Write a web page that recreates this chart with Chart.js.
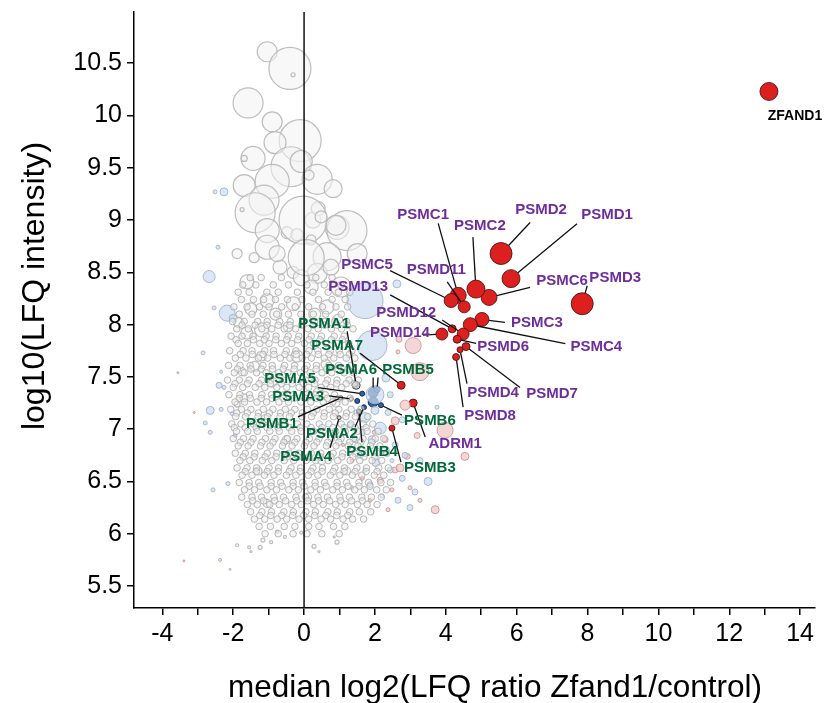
<!DOCTYPE html>
<html>
<head>
<meta charset="utf-8">
<script src="https://cdn.jsdelivr.net/npm/chart.js@4/dist/chart.umd.min.js"></script>
<style>
  html, body { margin: 0; padding: 0; background: #fff; }
</style>
</head>
<body>
<canvas id="volcano" width="826" height="703"></canvas>
<script>
// ---- data (x = median log2 ratio, y = log10 LFQ intensity, third value = bubble size) ----
const greyBubbles = [
  [-1.04,10.61,10], [-0.40,10.45,21], [-0.31,10.39,2], [-1.58,10.12,15], [-0.90,9.94,10],
  [-0.11,9.76,21], [-0.82,9.74,11], [-1.44,9.59,12], [-1.69,9.59,3], [-0.37,9.51,20],
  [-0.08,9.56,11], [0.37,9.39,15], [0.14,9.43,5], [0.82,9.30,9], [-1.69,9.33,11],
  [-0.90,9.37,17], [-1.13,9.19,15], [-1.38,9.07,20], [-1.75,9.10,2], [-1.04,8.90,12],
  [-0.48,8.88,6], [-0.20,8.86,6], [0.25,9.00,8], [0.40,9.11,7], [0.93,8.93,12],
  [1.21,8.90,20], [0.65,8.65,14], [-1.89,8.68,5], [-1.61,8.41,7], [-1.04,8.74,12],
  [-0.68,8.55,7], [-0.31,8.50,6], [0.37,8.49,10], [1.50,8.68,10], [-0.03,9.00,24],
  [-1.41,8.64,5], [-0.76,8.68,8], [0.20,8.81,5], [0.90,8.95,10], [0.48,9.03,6],
  [-0.08,8.45,8], [0.20,8.36,7], [0.76,8.55,8], [1.04,8.36,10], [-1.04,8.23,7],
  [0.65,8.17,7], [0.06,8.64,18], [-1.89,7.24,3], [-1.04,6.29,4], [-1.89,5.89,1.5],
  [-1.55,5.87,1.5], [-1.24,5.87,2], [-1.50,5.83,1], [-0.93,5.92,1.5], [-0.76,6.02,1.5],
  [-0.54,5.97,1.5], [0.28,5.88,2], [0.42,5.83,1], [0.93,5.92,2], [0.85,5.97,1],
  [-0.08,6.01,1.5], [-1.16,5.94,2], [-1.62,7.92,6], [-1.20,7.70,5], [-0.45,7.98,5],
  [0.62,7.62,5], [-1.75,7.55,4], [0.95,8.05,5], [-1.85,8.02,5], [-1.50,8.15,6],
  [-1.20,7.95,7], [-0.80,8.10,6], [-0.30,8.20,7], [0.30,8.10,6], [-1.40,7.60,5],
  [-0.90,7.45,5], [-0.20,7.70,6], [0.40,7.35,5], [-1.70,7.30,4], [-1.10,7.10,4],
  [0.90,7.25,4], [-0.50,6.90,4], [0.50,6.70,4], [1.20,6.60,4], [-1.30,6.60,4],
  [0.10,6.35,4]
];

const cloudRows = [
  [8.45, [-1.52,-1.21,-0.64,0.33,0.79]],
  [8.38, [-1.73,-1.36,-0.87,-0.44,0.08,0.57,1.04]],
  [8.31, [-1.86,-1.55,-1.05,-0.73,-0.19,0.25,0.68,0.97,1.29]],
  [8.24, [-1.77,-1.43,-1.14,-0.81,-0.47,-0.06,0.41,0.79,1.16]],
  [8.17, [-1.98,-1.61,-1.26,-0.99,-0.63,-0.25,0.13,0.52,0.9,1.23]],
  [8.10, [-1.83,-1.47,-1.15,-0.77,-0.44,-0.09,0.26,0.61,1.05]],
  [8.03, [-2.02,-1.69,-1.31,-1.04,-0.69,-0.39,-0.02,0.3,0.59,0.87,1.2]],
  [7.995, [-1.75,-1.38,-1.05,-0.73,-0.4,-0.07,0.25,0.58,0.93,1.22]],
  [7.96, [-1.9,-1.57,-1.19,-0.91,-0.56,-0.24,0.11,0.4,0.77,1.06,1.38]],
  [7.89, [-2.06,-1.75,-1.44,-1.07,-0.79,-0.45,-0.15,0.2,0.49,0.85,1.13]],
  [7.855, [-1.92,-1.43,-1.12,-0.8,-0.49,-0.18,0.14,0.45,0.77,1.08]],
  [7.82, [-1.86,-1.6,-1.25,-0.99,-0.64,-0.35,0.01,0.27,0.62,0.92,1.26]],
  [7.75, [-2.1,-1.72,-1.47,-1.11,-0.86,-0.5,-0.23,0.14,0.39,0.74,0.99,1.35]],
  [7.715, [-1.8,-1.46,-1.16,-0.85,-0.54,-0.22,0.07,0.4,0.7,1.02,1.28]],
  [7.68, [-1.94,-1.64,-1.29,-1.03,-0.67,-0.4,-0.05,0.21,0.57,0.84,1.19,1.43]],
  [7.61, [-2.13,-1.81,-1.52,-1.16,-0.9,-0.55,-0.27,0.08,0.35,0.7,0.97,1.32]],
  [7.575, [-1.88,-1.5,-1.21,-0.89,-0.59,-0.28,0.02,0.34,0.64,0.96,1.24]],
  [7.54, [-1.97,-1.69,-1.34,-1.07,-0.72,-0.46,-0.1,0.17,0.51,0.78,1.13,1.4]],
  [7.47, [-2.16,-1.83,-1.55,-1.2,-0.94,-0.59,-0.32,0.04,0.31,0.66,0.93,1.27,1.53]],
  [7.435, [-1.95,-1.6,-1.27,-0.95,-0.64,-0.33,-0.02,0.3,0.61,0.92,1.19,1.42]],
  [7.40, [-2.0,-1.73,-1.38,-1.11,-0.77,-0.49,-0.14,0.13,0.48,0.75,1.06]],
  [7.33, [-2.12,-1.81,-1.54,-1.19,-0.92,-0.57,-0.3,0.05,0.32,0.6,0.86]],
  [7.295, [-1.83,-1.52,-1.21,-0.9,-0.59,-0.28,0.03,0.35,0.66,0.97,1.3]],
  [7.26, [-1.95,-1.68,-1.33,-1.06,-0.71,-0.44,-0.09,0.19,0.54,0.81,1.16]],
  [7.19, [-2.07,-1.77,-1.5,-1.15,-0.88,-0.53,-0.26,0.09,0.36,0.71,0.98,1.33,1.6]],
  [7.155, [-1.9,-1.6,-1.29,-0.98,-0.67,-0.36,-0.05,0.26,0.57,0.88,1.2,1.5]],
  [7.12, [-1.93,-1.65,-1.3,-1.03,-0.68,-0.41,-0.06,0.21,0.56,0.83,1.18,1.45,1.8]],
  [7.05, [-2.04,-1.78,-1.43,-1.16,-0.81,-0.54,-0.19,0.08,0.43,0.7,1.05,1.32,1.67,1.94]],
  [7.015, [-1.97,-1.66,-1.35,-1.04,-0.73,-0.42,-0.11,0.2,0.51,0.82,1.13,1.44,1.75]],
  [6.98, [-1.91,-1.59,-1.32,-0.97,-0.7,-0.35,-0.08,0.27,0.54,0.89,1.16,1.51,1.78,2.09]],
  [6.91, [-2.0,-1.71,-1.44,-1.09,-0.82,-0.47,-0.2,0.15,0.42,0.77,1.04,1.39,1.66,2.01,2.25]],
  [6.875, [-1.8,-1.5,-1.19,-0.88,-0.57,-0.26,0.05,0.36,0.67,0.98,1.29,1.6,1.91]],
  [6.84, [-1.86,-1.58,-1.23,-0.96,-0.61,-0.34,0.01,0.28,0.63,0.9,1.25,1.52,1.87,2.14]],
  [6.77, [-1.94,-1.66,-1.39,-1.04,-0.77,-0.42,-0.15,0.2,0.47,0.82,1.09,1.44,1.71,2.06,2.33]],
  [6.735, [-1.72,-1.41,-1.1,-0.79,-0.48,-0.17,0.14,0.45,0.76,1.07,1.38,1.69,2.0]],
  [6.70, [-1.81,-1.53,-1.18,-0.91,-0.56,-0.29,0.06,0.33,0.68,0.95,1.3,1.57,1.92,2.19]],
  [6.63, [-1.89,-1.61,-1.34,-0.99,-0.72,-0.37,-0.1,0.25,0.52,0.87,1.14,1.49,1.76,2.11,2.38]],
  [6.595, [-1.66,-1.35,-1.04,-0.73,-0.42,-0.11,0.2,0.51,0.82,1.13,1.44,1.75,2.06]],
  [6.56, [-1.75,-1.47,-1.12,-0.85,-0.5,-0.23,0.12,0.39,0.74,1.01,1.36,1.63,1.98,2.25]],
  [6.49, [-1.83,-1.55,-1.28,-0.93,-0.66,-0.31,-0.04,0.31,0.58,0.93,1.2,1.55,1.82,2.17,2.44]],
  [6.455, [-1.55,-1.24,-0.93,-0.62,-0.31,0.0,0.31,0.62,0.93,1.24,1.55,1.86]],
  [6.42, [-1.68,-1.4,-1.05,-0.78,-0.43,-0.16,0.19,0.46,0.81,1.08,1.43,1.7,2.05,2.32]],
  [6.35, [-1.76,-1.47,-1.2,-0.85,-0.58,-0.23,0.04,0.39,0.66,1.01,1.28,1.63,1.9,2.18]],
  [6.315, [-1.45,-1.14,-0.83,-0.52,-0.21,0.1,0.41,0.72,1.03,1.34,1.65]],
  [6.28, [-1.6,-1.32,-0.97,-0.7,-0.35,-0.08,0.27,0.54,0.89,1.16,1.51,1.78,2.06]],
  [6.21, [-1.51,-1.19,-0.92,-0.57,-0.3,0.05,0.32,0.67,0.94,1.29,1.56,1.88]],
  [6.175, [-1.25,-0.94,-0.63,-0.32,-0.01,0.3,0.61,0.92,1.23]],
  [6.14, [-1.4,-1.11,-0.76,-0.49,-0.14,0.13,0.48,0.75,1.1,1.37,1.68]],
  [6.07, [-1.27,-0.95,-0.56,-0.26,0.13,0.42,0.83,1.15]],
  [6.00, [-1.1,-0.73,-0.31,0.08,0.5,0.99]]
];

const blueBubbles = [
  [-2.68,8.46,6], [-2.17,8.11,8], [-2.00,8.06,4], [-2.54,8.16,2], [-2.43,8.74,2],
  [-2.51,9.27,2], [-2.26,9.27,4], [-2.85,7.73,2], [-2.34,7.55,1.5], [-2.40,7.42,3],
  [-2.26,7.40,2], [2.62,8.39,4], [-2.65,7.18,4], [-2.34,7.19,2], [-2.03,7.15,2],
  [-2.79,7.06,2], [-2.65,6.97,2], [-1.95,6.94,2], [-2.15,6.48,2], [-2.57,6.42,2],
  [-2.37,5.75,1.5], [-2.09,5.66,1], [1.72,8.23,18], [1.92,7.80,15], [2.00,7.33,9],
  [1.72,7.11,5], [2.15,7.01,6], [1.92,6.90,4], [2.29,6.80,4], [2.57,6.85,3],
  [1.58,6.75,3], [2.03,6.68,4], [2.43,6.61,3], [2.77,6.53,3], [3.50,6.50,4],
  [3.13,6.40,3], [2.65,6.32,3], [2.99,6.25,3], [2.20,6.36,2], [1.86,6.47,3],
  [3.27,6.70,3], [2.85,6.75,3], [1.72,6.61,2], [1.44,6.90,3], [2.37,7.16,3],
  [1.30,7.04,3], [3.75,7.21,2], [2.77,7.09,3], [2.43,7.33,3], [2.31,7.49,4],
  [1.35,6.44,2], [2.48,6.70,2], [1.64,6.97,3], [2.00,7.18,4]
];

const pinkBubbles = [
  [3.08,7.80,8], [3.27,7.55,9], [2.68,7.86,3], [2.65,7.74,2], [2.85,7.23,5],
  [3.98,6.99,8], [4.54,6.74,4], [2.57,6.61,3], [3.70,6.23,4], [2.91,6.74,3],
  [3.19,6.94,3], [2.29,6.90,3], [2.71,6.63,4], [2.15,6.51,3], [2.48,6.42,2],
  [3.27,6.32,2], [1.86,6.32,2], [2.37,6.23,2], [2.57,7.08,4], [1.35,6.70,2],
  [1.64,6.53,2], [2.99,6.44,2], [3.50,6.66,2], [1.98,6.97,2], [1.10,6.85,1.5],
  [-3.56,7.54,1], [-3.39,5.74,1], [-3.10,7.16,1]
];

// named proteasome / ZFAND1 points
const redNames = ['ZFAND1','PSMD3','PSMD2','PSMD1','PSMC6','PSMC2','PSMC1','PSMD11','PSMC5','PSMC3',
                  'PSMC4','PSMD12','PSMD13','PSMD14','PSMD6','PSMD7','PSMD4','PSMD8','ADRM1','PSMA7','PSMB3'];
const redX = [13.12, 7.85, 5.56, 5.84, 5.22, 4.85, 4.35, 4.52, 4.15, 5.02,
              4.69, 4.49, 4.18, 3.89, 4.32, 4.57, 4.40, 4.29, 3.08, 2.74, 2.48];
const redY = [10.23, 8.20, 8.68, 8.44, 8.26, 8.34, 8.28, 8.17, 8.23, 8.05,
              8.00, 7.91, 7.96, 7.91, 7.86, 7.79, 7.76, 7.69, 7.25, 7.42, 7.01];
const redSize = [9, 11, 11, 9, 8, 9, 8, 6, 7, 7,
                 7, 6, 4, 6, 4, 4, 3, 3.5, 4, 4, 3];

const blueNames = ['PSMA6','PSMB5','PSMA5','PSMA2','PSMB4','PSMB6','PSMB2','PSMB7'];
const blueX = [1.95, 2.06, 1.64, 1.69, 1.55, 2.17, 1.95, 1.50];
const blueY = [7.35, 7.38, 7.34, 7.21, 7.17, 7.23, 7.26, 7.27];
const blueSize = [5, 3, 2.5, 2.5, 2.5, 2.5, 5, 2.5];

const greyNames = ['PSMA1','PSMA3','PSMB1','PSMA4'];
const greyX = [1.47, 1.33, 1.04, 0.99];
const greyY = [7.42, 7.29, 7.30, 7.11];
const greySize = [4, 2, 2, 2];

// label layout: [label dx, label dy, line start dx, line start dy] in px from the point
const labelLayout = {
  ZFAND1: [26, 25], PSMD3: [33, -26, 5, -18], PSMD2: [40, -44, 29, -31], PSMD1: [96, -64, 66, -55],
  PSMC6: [73, -17, 41, -10], PSMC2: [4, -63, -3, -52], PSMC1: [-35, -81, -20, -72],
  PSMD11: [-28, -37, -17, -25], PSMC5: [-84, -36, -61, -30], PSMC3: [55, 3, 23, 3],
  PSMC4: [126, 22, 95, 19], PSMD12: [-57, -21, -21, -14], PSMD13: [-94, -42, -62, -34],
  PSMD14: [-42, -1, -19, 1], PSMD6: [46, 8, 19, 4], PSMD7: [86, 47, 54, 41],
  PSMD4: [33, 43, 7, 34], PSMD8: [34, 59, 7, 50], ADRM1: [42, 41, 12, 34],
  PSMA7: [-64, -39, -41, -32], PSMB3: [38, 40, 9, 34],
  PSMA6: [-22, -23, 0, -15], PSMB5: [31, -20, 1, -12], PSMA5: [-72, -15, -44, -6],
  PSMA2: [-32, 27, -9, 20], PSMB4: [13, 40, 3, 31], PSMB6: [49, 16, 21, 10],
  PSMA1: [-32, -61, -9, -54], PSMA3: [-53, -2, -22, -3], PSMB1: [-69, 26, -43, 19],
  PSMA4: [-33, 39, -9, 30]
};

// ---- build datasets ----
const tri = arr => arr.map(([x, y, r]) => ({ x, y, r }));
const cloudPts = cloudRows.flatMap(([y, xs]) => xs.map(x => ({ x, y, r: 3.3 })));
const named = (names, xs, ys, rs) => names.map((n, i) => ({ x: xs[i], y: ys[i], r: rs[i], name: n }));

const redPts = named(redNames, redX, redY, redSize);
const bluePts = named(blueNames, blueX, blueY, blueSize);
const greyNamedPts = named(greyNames, greyX, greyY, greySize);

const FONT = "'Liberation Sans', Arial, Helvetica, sans-serif";
const PURPLE = '#6f2d9c';
const GREEN = '#00693a';

const overlay = {
  id: 'overlay',
  afterDatasetsDraw(chart) {
    const { ctx, chartArea: a, scales: { x, y } } = chart;
    ctx.save();
    const x0 = x.getPixelForValue(0);
    ctx.strokeStyle = '#111';
    ctx.lineWidth = 1.5;
    ctx.beginPath();
    ctx.moveTo(x0, a.top);
    ctx.lineTo(x0, a.bottom);
    ctx.stroke();

    const all = redPts.concat(bluePts, greyNamedPts);
    ctx.lineWidth = 1.3;
    ctx.strokeStyle = '#111';
    all.forEach(p => {
      const l = labelLayout[p.name];
      if (!l || l.length < 4) return;
      const px = x.getPixelForValue(p.x), py = y.getPixelForValue(p.y);
      const sx = px + l[2], sy = py + l[3];
      const d = Math.hypot(px - sx, py - sy);
      const ex = px - (px - sx) / d * p.r, ey = py - (py - sy) / d * p.r;
      ctx.beginPath();
      ctx.moveTo(sx, sy);
      ctx.lineTo(ex, ey);
      ctx.stroke();
    });

    ctx.textAlign = 'center';
    ctx.textBaseline = 'middle';
    all.forEach(p => {
      const l = labelLayout[p.name];
      if (!l) return;
      const px = x.getPixelForValue(p.x), py = y.getPixelForValue(p.y);
      if (p.name === 'ZFAND1') {
        ctx.font = 'bold 14px ' + FONT;
        ctx.fillStyle = '#000';
      } else {
        ctx.font = 'bold 15px ' + FONT;
        ctx.fillStyle = /^PSM[AB]/.test(p.name) ? GREEN : PURPLE;
      }
      ctx.fillText(p.name, px + l[0], py + l[1]);
    });
    ctx.restore();
  },
  afterDraw(chart) {
    const { ctx } = chart;
    ctx.save();
    ctx.fillStyle = '#000';
    ctx.textAlign = 'center';
    ctx.textBaseline = 'middle';
    ctx.font = '31.5px ' + FONT;
    ctx.fillText('median log2(LFQ ratio Zfand1/control)', 495, 688);
    ctx.font = '32px ' + FONT;
    ctx.translate(35, 286);
    ctx.rotate(-Math.PI / 2);
    ctx.fillText('log10(LFQ intensity)', 0, 0);
    ctx.restore();
  }
};

new Chart(document.getElementById('volcano'), {
  type: 'bubble',
  data: {
    datasets: [
      { data: cloudPts, backgroundColor: 'rgba(236,236,236,0.5)', borderColor: 'rgba(172,172,172,0.85)', borderWidth: 1 },
      { data: tri(greyBubbles), backgroundColor: 'rgba(242,242,242,0.55)', borderColor: 'rgba(185,185,185,0.95)', borderWidth: 1.2 },
      { data: tri(blueBubbles), backgroundColor: 'rgba(204,221,240,0.7)', borderColor: 'rgba(160,180,205,0.9)', borderWidth: 1 },
      { data: tri(pinkBubbles), backgroundColor: 'rgba(242,200,200,0.75)', borderColor: 'rgba(205,150,150,0.9)', borderWidth: 1 },
      { data: greyNamedPts, backgroundColor: '#c8c8c8', borderColor: '#444', borderWidth: 1 },
      { data: bluePts, backgroundColor: '#2d62a4', borderColor: '#1a2a44', borderWidth: 1 },
      { data: redPts, backgroundColor: '#dc1f1f', borderColor: '#3c0c0c', borderWidth: 0.8 }
    ]
  },
  options: {
    responsive: false,
    animation: false,
    devicePixelRatio: 1,
    events: [],
    layout: { autoPadding: false, padding: { top: 12, right: 11, left: 0, bottom: 0 } },
    plugins: { legend: { display: false }, tooltip: { enabled: false } },
    scales: {
      x: {
        type: 'linear', min: -4.8, max: 14.42,
        ticks: {
          stepSize: 1, includeBounds: false, autoSkip: false, maxRotation: 0, padding: 4,
          color: '#000', font: { family: FONT, size: 25 },
          callback: v => (Math.round(v) % 2 === 0 ? String(Math.round(v)) : '')
        },
        grid: { drawOnChartArea: false, drawTicks: true, tickLength: 7, color: '#000', lineWidth: 1.5 },
        border: { display: true, color: '#000', width: 1.5 },
        afterFit: s => { s.height = 95; s.paddingLeft = 0; s.paddingRight = 0; }
      },
      y: {
        type: 'linear', min: 5.29, max: 10.99,
        ticks: {
          stepSize: 0.5, includeBounds: false, autoSkip: false, padding: 5,
          color: '#000', font: { family: FONT, size: 25 },
          callback: v => String(Math.round(v * 10) / 10)
        },
        grid: { drawOnChartArea: false, drawTicks: true, tickLength: 7, color: '#000', lineWidth: 1.5 },
        border: { display: true, color: '#000', width: 1.5 },
        afterFit: s => { s.width = 134; s.paddingTop = 0; s.paddingBottom = 0; }
      }
    }
  },
  plugins: [overlay]
});
</script>
</body>
</html>
